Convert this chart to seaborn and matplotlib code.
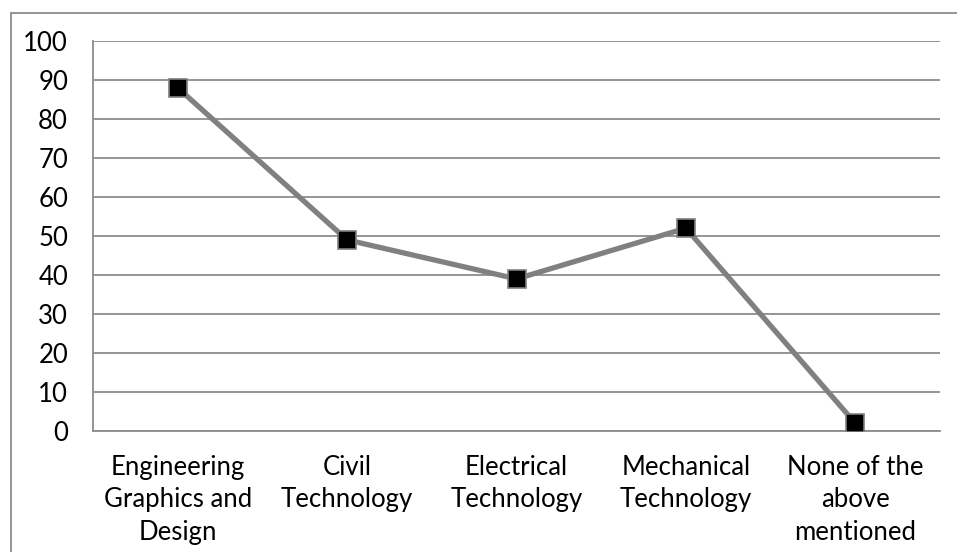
import matplotlib
matplotlib.use("Agg")
import matplotlib.pyplot as plt
import seaborn as sns
import pandas as pd
from matplotlib.patches import Rectangle

categories = [
    "Engineering\nGraphics and\nDesign",
    "Civil\nTechnology",
    "Electrical\nTechnology",
    "Mechanical\nTechnology",
    "None of the\nabove\nmentioned",
]
values = [88, 49, 39, 52, 2]
y_ticks = [0, 10, 20, 30, 40, 50, 60, 70, 80, 90, 100]

sns.set_theme(style="white")
plt.rcParams["font.family"] = ["Lato", "DejaVu Sans"]

df = pd.DataFrame({"subject": categories, "count": values})

fig = plt.figure(figsize=(9.57, 5.52), dpi=100)
ax = fig.add_axes([93 / 957, 1 - 431 / 552, (940 - 93) / 957, (431 - 41) / 552])

grid_col = "#8c8c8c"
for t in y_ticks:
    ax.axhline(t, color=grid_col, lw=1.3, zorder=1)

sns.lineplot(
    data=df, x="subject", y="count", sort=False, ax=ax,
    color="#808080", lw=3.8, marker="s", markersize=13,
    markerfacecolor="black", markeredgecolor="#7f7f7f", markeredgewidth=1.2,
    zorder=3,
)

ax.set_xlim(-0.5, len(categories) - 0.5)
ax.set_ylim(0, 100)
ax.set_yticks(y_ticks)
ax.set_xlabel("")
ax.set_ylabel("")
ax.tick_params(axis="both", length=0, labelsize=18.5, colors="black")
ax.tick_params(axis="y", pad=18)
ax.tick_params(axis="x", pad=17)
for lbl in ax.get_xticklabels():
    lbl.set_linespacing(1.38)
    lbl.set_horizontalalignment("center")

for side in ["top", "right"]:
    ax.spines[side].set_visible(False)
for side in ["left", "bottom"]:
    ax.spines[side].set_color(grid_col)
    ax.spines[side].set_linewidth(1.3)

# outer chart frame
fig.patches.append(Rectangle((10.5 / 957, -0.05), 1.2, 1 - 12.5 / 552 + 0.05,
                             transform=fig.transFigure, fill=False,
                             edgecolor="#8c8c8c", lw=1.3, zorder=0))

fig.savefig("out.png", dpi=100, facecolor="white")
